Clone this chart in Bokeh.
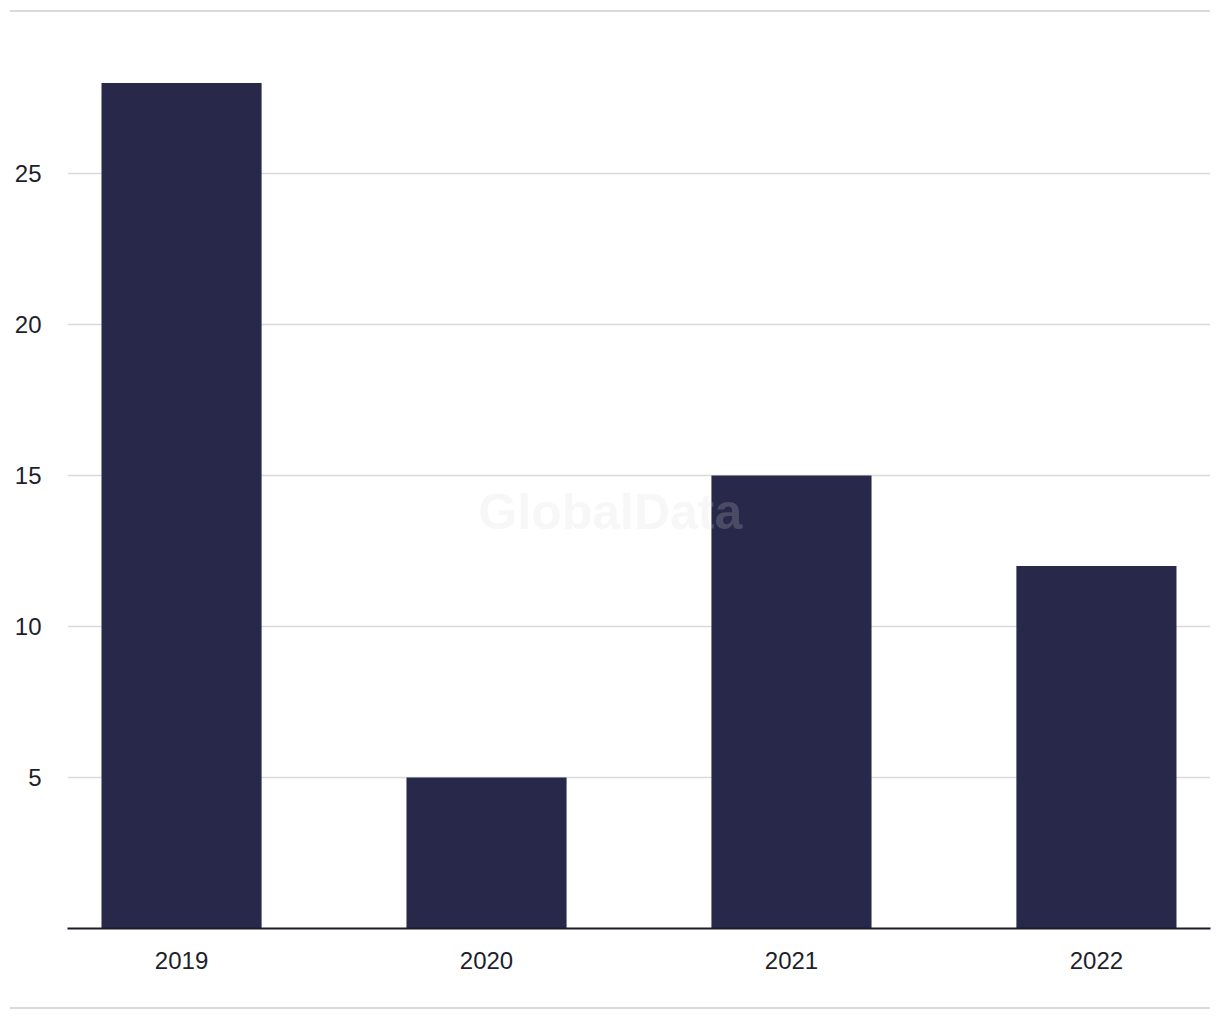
from bokeh.plotting import figure
from bokeh.models import Range1d, FixedTicker, ColumnDataSource, Label, Div
from bokeh.layouts import column
from bokeh.embed import file_html
from bokeh.resources import INLINE

years = ["2019", "2020", "2021", "2022"]
values = [28, 5, 15, 12]
y_ticks = [5, 10, 15, 20, 25]

BAR = "#28284a"
TEXT = "#1e1e2c"
GRID = "#dadada"
FONT = "Liberation Sans"

xs = list(range(len(years)))
src = ColumnDataSource(dict(x=xs, top=values, label=years))

p = figure(width=1220, height=995, output_backend="svg", toolbar_location=None,
           x_range=Range1d(-0.374, len(years) - 1 + 0.374), y_range=Range1d(0, 30),
           min_border_left=67, min_border_right=10, min_border_top=10, min_border_bottom=79)
p.outline_line_color = None
p.background_fill_color = "white"
p.border_fill_color = "white"

p.vbar(x="x", top="top", bottom=0, width=0.525, source=src, color=BAR, line_color=None)

# axes
p.xaxis.ticker = FixedTicker(ticks=xs)
p.xaxis.major_label_overrides = {i: y for i, y in enumerate(years)}
p.xaxis.major_tick_line_color = None
p.xaxis.minor_tick_line_color = None
p.xaxis.axis_line_color = "#1a1a2a"
p.xaxis.axis_line_width = 2
p.xaxis.major_label_standoff = 17
p.xaxis.major_label_text_font = FONT
p.xaxis.major_label_text_font_size = "24px"
p.xaxis.major_label_text_color = TEXT

p.yaxis.ticker = FixedTicker(ticks=y_ticks)
p.yaxis.major_tick_line_color = None
p.yaxis.minor_tick_line_color = None
p.yaxis.axis_line_color = None
p.yaxis.major_label_standoff = 20
p.yaxis.major_label_text_font = FONT
p.yaxis.major_label_text_font_size = "24px"
p.yaxis.major_label_text_color = TEXT

p.xgrid.grid_line_color = None
p.ygrid.ticker = FixedTicker(ticks=y_ticks)
p.ygrid.grid_line_color = GRID
p.ygrid.grid_line_width = 1.5

# watermark
p.add_layout(Label(x=1.406, y=13.8, text="GlobalData", text_align="center", text_baseline="middle",
                   text_font=FONT, text_font_style="bold", text_font_size="50px",
                   text_color="#d7d7d7", text_alpha=0.2))

# top and bottom rules
top_rule = Div(text="", width=1200, height=2, margin=(10, 10, 0, 10),
               styles={"background-color": GRID})
bottom_rule = Div(text="", width=1200, height=2, margin=(0, 10, 0, 10),
                  styles={"background-color": GRID})

layout = column(top_rule, p, bottom_rule, spacing=0)
open("out.html", "w").write(file_html(layout, INLINE))
